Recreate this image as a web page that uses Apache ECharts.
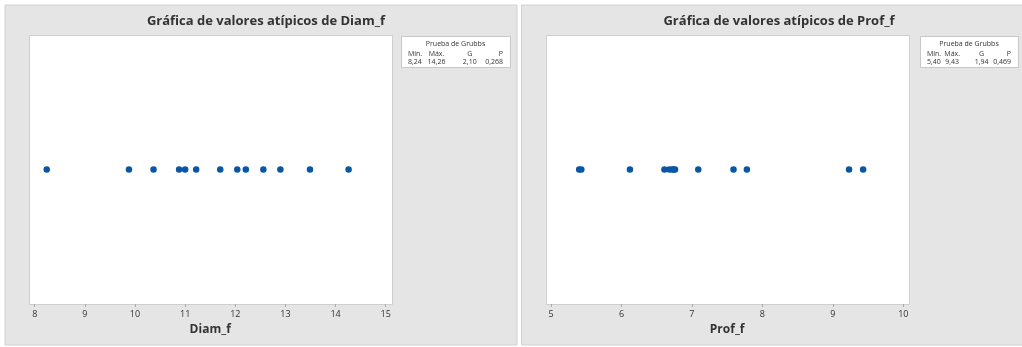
<!DOCTYPE html>
<html>
<head>
<meta charset="utf-8">
<script src="https://cdn.jsdelivr.net/npm/echarts@6/dist/echarts.min.js"></script>
<style>
  html, body { margin: 0; padding: 0; background: #ffffff; }
  #chart { width: 1022px; height: 347px; }
</style>
</head>
<body>
<div id="chart"></div>
<script>
// Diam_f sample (13 observations)
const diamValues = [8.24, 9.88, 10.37, 10.88, 11.00, 11.22, 11.70, 12.04, 12.21, 12.56, 12.90, 13.49, 14.26];
// Prof_f sample (13 observations)
const profValues = [5.40, 5.43, 6.12, 6.61, 6.68, 6.72, 6.74, 6.76, 7.09, 7.59, 7.78, 9.23, 9.43];

const titles = ['Gráfica de valores atípicos de Diam_f', 'Gráfica de valores atípicos de Prof_f'];
const axisNames = ['Diam_f', 'Prof_f'];

// Grubbs test table: header and results per panel
const grubbsHeader = ['Mín.', 'Máx.', 'G', 'P'];
const grubbsDiam = ['8,24', '14,26', '2,10', '0,268'];
const grubbsProf = ['5,40', '9,43', '1,94', '0,469'];

const FONT = '"Open Sans", "Noto Sans", sans-serif';
const DOT = '#0a56a6';

const chart = echarts.init(document.getElementById('chart'), null, { renderer: 'canvas' });

// Panel geometry
const panels = [
  { x: 5, w: 512, plot: [29, 35, 363, 269], axis: [8, 15, 1], gridL: 34.7, gridR: 385.7, box: [401, 36, 109, 31], stats: grubbsDiam },
  { x: 521.5, w: 505, plot: [546, 35, 363, 269], axis: [5, 10, 1], gridL: 551, gridR: 903.3, box: [920, 36, 98, 31], stats: grubbsProf }
];

const graphics = [];
panels.forEach((p, i) => {
  graphics.push({
    type: 'rect', z: -10, silent: true,
    shape: { x: p.x, y: 5, width: p.w, height: 340 },
    style: { fill: '#e5e5e5', stroke: '#d0d0d0', lineWidth: 1 }
  });
  graphics.push({
    type: 'rect', z: -9, silent: true,
    shape: { x: p.plot[0] + 0.5, y: p.plot[1] + 0.5, width: p.plot[2], height: p.plot[3] },
    style: { fill: '#ffffff', stroke: '#cfcfcf', lineWidth: 1 }
  });
  const b = p.box;
  graphics.push({
    type: 'rect', z: -9, silent: true,
    shape: { x: b[0] + 0.5, y: b[1] + 0.5, width: b[2], height: b[3] },
    style: { fill: '#ffffff', stroke: '#c8c8c8', lineWidth: 1 }
  });
  const txt = (s, x, y, align) => ({
    type: 'text', z: 5, silent: true,
    style: { text: s, x: x, y: y, align: align, verticalAlign: 'middle', fill: '#333', font: '7px ' + FONT }
  });
  const left = b[0] + 7, right = b[0] + b[2] - 7;
  const c2 = left + (right - left) * 0.3, c3 = left + (right - left) * 0.65;
  graphics.push(txt('Prueba de Grubbs', b[0] + b[2] / 2, b[1] + 8, 'center'));
  const cols = [[left, 'left'], [c2, 'center'], [c3, 'center'], [right, 'right']];
  grubbsHeader.forEach((h, k) => graphics.push(txt(h, cols[k][0], b[1] + 17.5, cols[k][1])));
  p.stats.forEach((v, k) => graphics.push(txt(v, cols[k][0], b[1] + 25.5, cols[k][1])));
});

const series = [diamValues, profValues].map((vals, i) => ({
  type: 'scatter',
  xAxisIndex: i, yAxisIndex: i,
  symbol: 'circle', symbolSize: 6.5,
  itemStyle: { color: DOT, opacity: 1 },
  data: vals.map(v => [v, 1]),
  silent: true
}));

chart.setOption({
  animation: false,
  backgroundColor: '#ffffff',
  title: panels.map((p, i) => ({
    text: titles[i],
    left: p.x + p.w / 2, top: 10,
    textAlign: 'center',
    textStyle: { fontFamily: FONT, fontSize: 13, fontWeight: 'bold', color: '#333' }
  })),
  grid: panels.map(p => ({ left: p.gridL, width: p.gridR - p.gridL, top: 35, height: 269, containLabel: false })),
  xAxis: panels.map((p, i) => ({
    type: 'value', gridIndex: i,
    min: p.axis[0], max: p.axis[1], interval: p.axis[2],
    name: axisNames[i], nameLocation: 'middle', nameGap: 17,
    nameTextStyle: { fontFamily: FONT, fontSize: 12, fontWeight: 'bold', color: '#333' },
    axisLine: { show: false },
    axisTick: { show: true, length: 3, lineStyle: { color: '#aaa' } },
    axisLabel: { fontFamily: FONT, fontSize: 9, color: '#333', margin: 6 },
    splitLine: { show: false }
  })),
  yAxis: panels.map((p, i) => ({
    type: 'value', gridIndex: i, min: 0, max: 2, show: false
  })),
  graphic: graphics,
  series: series
});
</script>
</body>
</html>
